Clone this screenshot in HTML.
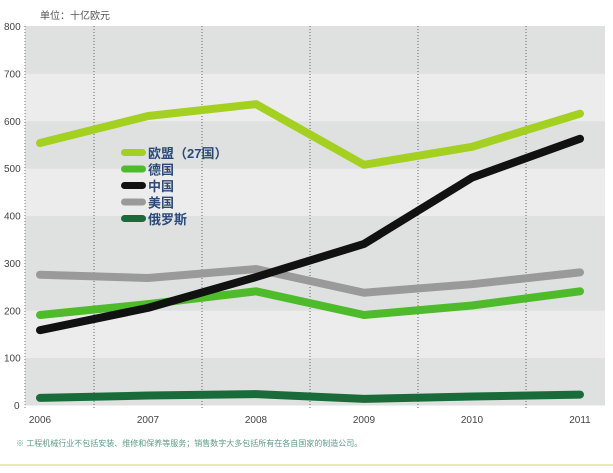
<!DOCTYPE html>
<html><head><meta charset="utf-8"><style>
body{margin:0;background:#fff;width:613px;height:468px;overflow:hidden;font-family:"Liberation Sans","Noto Sans CJK SC",sans-serif}
</style></head><body>
<svg width="613" height="468" id="svg">
<text x="40" y="19" font-size="10" fill="#555">单位：十亿欧元</text>
<g id="bands"></g><g id="grid"></g><g id="yt"></g><g id="xt"></g><g id="lines"></g><g id="legend"></g>
<text x="16" y="446" font-size="8" fill="#5f9a86">※ 工程机械行业不包括安装、维修和保养等服务；销售数字大多包括所有在各自国家的制造公司。</text>
<line x1="0" y1="465" x2="613" y2="465" stroke="#e6ecb0" stroke-width="2"/>
</svg>
<script>
const years=["2006","2007","2008","2009","2010","2011"];
const yTicks=[0,100,200,300,400,500,600,700,800];
const eu=[553,610,635,507,545,615];
const de=[190,213,240,190,210,240];
const cn=[158,205,270,340,480,562];
const us=[275,268,287,237,255,280];
const ru=[15,20,23,13,18,22];
const seriesNames=["欧盟（27国）","德国","中国","美国","俄罗斯"];
const bandDark=[1,0,1,1,0,1,0,1];
const NS="http://www.w3.org/2000/svg";
const X0=25,X1=605,Y0=405,Y1=26;
const x=i=>40+i*108;
const y=v=>Y0-(v/800)*(Y0-Y1);
function mk(t,a,p){const e=document.createElementNS(NS,t);for(const k in a)e.setAttribute(k,a[k]);p.appendChild(e);return e;}
const bands=document.getElementById('bands');
for(let i=0;i<yTicks.length-1;i++){
 const r=mk('rect',{x:X0,y:y(yTicks[i+1]),width:X1-X0,height:y(yTicks[i])-y(yTicks[i+1])+0.5,fill:bandDark[i]?'#dfe0e0':'#ececec'},bands);
 
 
}
const grid=document.getElementById('grid');
const gl=mk('line',{x1:X0,y1:Y1,x2:X0,y2:Y0+4,stroke:'#777','stroke-dasharray':'1,2'},grid);


for(let i=0;i<years.length-1;i++){
 const l=mk('line',{x1:x(i)+54,y1:Y1,x2:x(i)+54,y2:Y0+4,stroke:'#666','stroke-dasharray':'1,2'},grid);
 
 
}
const yt=document.getElementById('yt');
yTicks.forEach(v=>{const t=mk('text',{x:v==0?14:4,y:y(v)+4,'font-size':10,fill:'#444'},yt);t.textContent=v;
 
 });
const xt=document.getElementById('xt');
years.forEach((s,i)=>{const t=mk('text',{x:x(i),y:423,'font-size':10,fill:'#444','text-anchor':'middle'},xt);t.textContent=s;
 
 });
const lines=document.getElementById('lines');
const series=[[us,'#9a9a9a'],[de,'#4dbb2a'],[cn,'#111'],[ru,'#1a6b3a'],[eu,'#a4d021']];
const snames=['us-line','germany-line','china-line','russia-line','eu-line'];
series.forEach(([d,c],k)=>{const p=mk('polyline',{points:d.map((v,i)=>x(i)+','+y(v)).join(' '),fill:'none',stroke:c,'stroke-width':8,'stroke-linejoin':'round','stroke-linecap':'round'},lines);
 
 });
const lg=document.getElementById('legend');
const lc=['#a4d021','#4dbb2a','#111','#9a9a9a','#1a6b3a'];
seriesNames.forEach((n,i)=>{const yy=153+i*16.5;
 const s=mk('rect',{x:121,y:yy-4,width:25,height:7,rx:3.5,fill:lc[i]},lg);
 
 
 const t=mk('text',{x:148,y:yy+5,'font-size':13,'font-weight':'bold',fill:'#2b4a78'},lg);t.textContent=n;
 
 });
</script>
</body></html>
